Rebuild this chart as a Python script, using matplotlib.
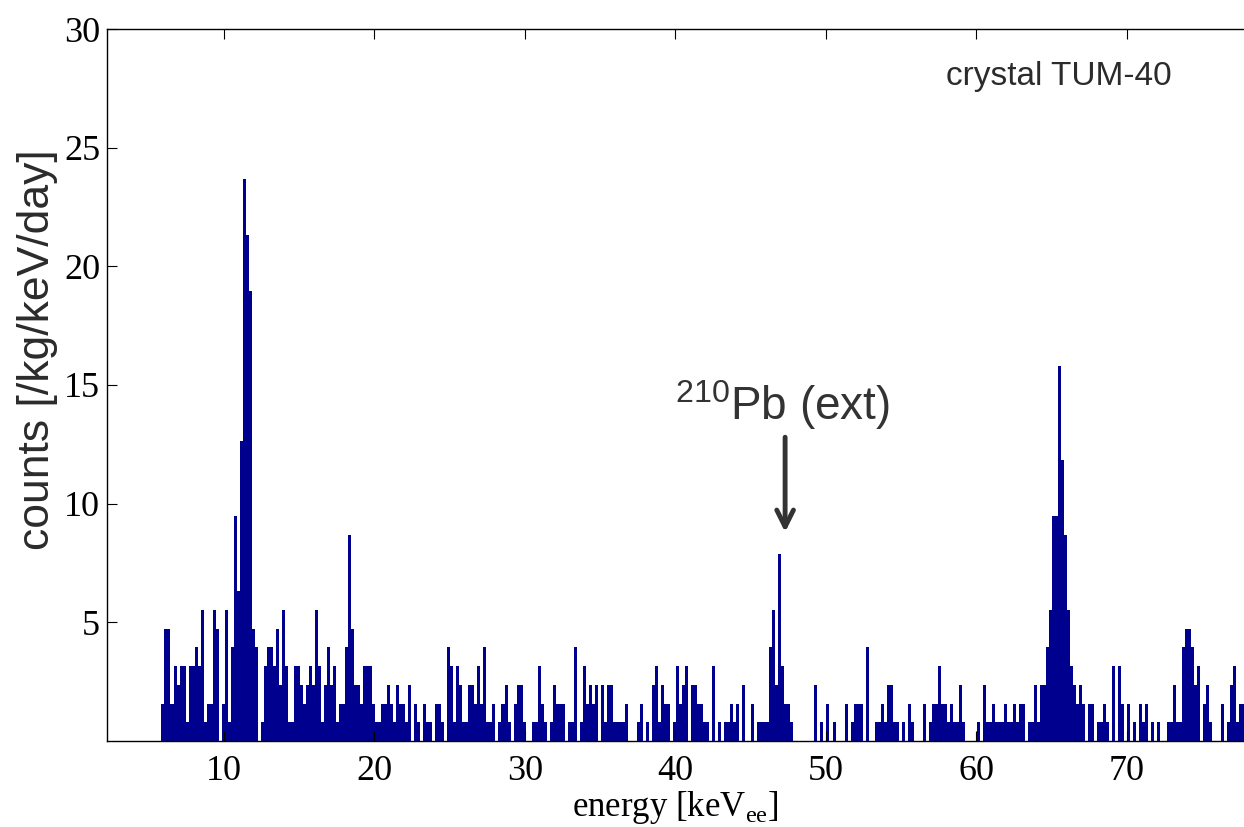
import numpy as np
import matplotlib
matplotlib.use("Agg")
import matplotlib.pyplot as plt
from matplotlib import font_manager

# 0.2 keV bins, first bin starts at 2.85 keV; values are event counts per bin
bin_start = 2.85
bin_width = 0.2
count_unit = 0.79   # counts/kg/keV/day for one event

counts = [
    0,
    0, 0, 0, 0, 0,        # 3
    0, 0, 0, 0, 0,        # 4
    0, 0, 0, 0, 2,        # 5
    6, 6, 2, 4, 3,        # 6
    4, 4, 1, 4, 4,        # 7
    5, 4, 7, 1, 2,        # 8
    2, 7, 6, 0, 2,        # 9
    7, 1, 5, 12, 8,       # 10
    16, 30, 27, 24, 6,    # 11
    5, 0, 1, 4, 5,        # 12
    5, 4, 6, 3, 7,        # 13
    4, 1, 1, 4, 4,        # 14
    3, 2, 3, 4, 3,        # 15
    7, 4, 1, 3, 5,        # 16
    3, 4, 1, 2, 2,        # 17
    5, 11, 6, 3, 3,       # 18
    2, 4, 4, 4, 2,        # 19
    1, 1, 2, 2, 3,        # 20
    2, 1, 3, 2, 2,        # 21
    1, 3, 0, 2, 1,        # 22
    0, 2, 1, 1, 0,        # 23
    2, 2, 1, 0, 5,        # 24
    4, 1, 4, 3, 1,        # 25
    1, 3, 3, 2, 4,        # 26
    2, 5, 1, 1, 2,        # 27
    0, 1, 2, 3, 1,        # 28
    0, 2, 3, 3, 1,        # 29
    0, 0, 1, 1, 4,        # 30
    2, 1, 0, 1, 3,        # 31
    2, 2, 2, 0, 1,        # 32
    1, 5, 0, 1, 4,        # 33
    2, 3, 2, 3, 0,        # 34
    3, 1, 3, 3, 1,        # 35
    1, 1, 1, 2, 0,        # 36
    0, 0, 1, 2, 0,        # 37
    1, 0, 3, 4, 1,        # 38
    3, 2, 2, 0, 1,        # 39
    4, 2, 3, 4, 0,        # 40
    3, 3, 2, 2, 1,        # 41
    1, 0, 4, 0, 1,        # 42
    0, 1, 1, 2, 1,        # 43
    2, 0, 3, 0, 0,        # 44
    2, 0, 1, 1, 1,        # 45
    1, 5, 7, 3, 10,       # 46
    4, 2, 2, 1, 0,        # 47
    0, 0, 0, 0, 0,        # 48
    0, 3, 0, 1, 0,        # 49
    2, 0, 1, 0, 0,        # 50
    0, 2, 0, 1, 2,        # 51
    2, 2, 0, 5, 0,        # 52
    0, 1, 1, 2, 1,        # 53
    3, 3, 1, 1, 0,        # 54
    1, 0, 2, 1, 0,        # 55
    0, 0, 2, 0, 1,        # 56
    2, 2, 4, 2, 2,        # 57
    1, 2, 1, 1, 3,        # 58
    1, 0, 0, 0, 0,        # 59
    1, 0, 3, 1, 1,        # 60
    2, 1, 1, 1, 2,        # 61
    1, 1, 2, 1, 2,        # 62
    2, 0, 1, 1, 3,        # 63
    1, 3, 3, 5, 7,        # 64
    12, 12, 20, 15, 11,   # 65
    7, 4, 3, 2, 3,        # 66
    2, 0, 2, 2, 0,        # 67
    1, 1, 2, 1, 0,        # 68
    4, 0, 4, 2, 0,        # 69
    2, 0, 1, 0, 2,        # 70
    1, 2, 0, 1, 0,        # 71
    1, 0, 0, 1, 1,        # 72
    3, 1, 1, 5, 6,        # 73
    6, 5, 3, 4, 0,        # 74
    2, 3, 1, 0, 0,        # 75
    0, 2, 0, 1, 3,        # 76
    4, 1, 2, 2,           # 77
]

xticks = [10, 20, 30, 40, 50, 60, 70]
yticks = [5, 10, 15, 20, 25, 30]

bar_color = "#00008F"
text_color = "#2b2b2b"

names = {f.name for f in font_manager.fontManager.ttflist}
narrow = "Liberation Sans Narrow" if "Liberation Sans Narrow" in names else "Liberation Sans"

plt.rcParams["mathtext.fontset"] = "custom"
plt.rcParams["mathtext.rm"] = "Liberation Serif"
plt.rcParams["mathtext.sf"] = "Liberation Sans"

fig = plt.figure(figsize=(12.44, 8.27), dpi=100)
ax = fig.add_axes([107 / 1244, 1 - 741 / 827, 1 - 107 / 1244, (741 - 29) / 827])

rates = np.array(counts) * count_unit
edges = bin_start + bin_width * np.arange(len(counts) + 1)
ax.stairs(rates, edges, fill=True, color=bar_color, linewidth=0)

ax.set_xlim(2.23, 77.8)
ax.set_ylim(0, 30)
ax.set_xticks(xticks)
ax.set_yticks(yticks)
ax.spines["right"].set_visible(False)
for s in ["left", "top", "bottom"]:
    ax.spines[s].set_linewidth(1.0)

ax.tick_params(direction="in", top=True, right=False, length=7, width=0.8)
ax.tick_params(axis="x", pad=10)
ax.tick_params(axis="y", pad=5)
for lab in ax.get_xticklabels() + ax.get_yticklabels():
    lab.set_fontfamily("Liberation Serif")
    lab.set_fontsize(26)

ax.set_xlabel(r"energy [keV$_{\mathrm{ee}}$]", fontfamily="Liberation Serif",
              fontsize=25, labelpad=1)
ax.set_ylabel("counts [/kg/keV/day]", fontfamily=[narrow, "DejaVu Sans"],
              fontsize=32, color=text_color)
ax.yaxis.set_label_coords(-0.043, 0.55)

ax.text(65.5, 28.0, "crystal TUM-40", fontfamily="Liberation Sans", fontsize=24,
        color=text_color, ha="center", va="center")

ax.annotate("", xy=(47.3, 8.8), xytext=(47.3, 12.8),
            arrowprops=dict(arrowstyle="->", color="#333333", lw=3.5,
                            mutation_scale=30, shrinkA=0, shrinkB=0))
ax.text(47.1, 14.15, r"$^{\mathsf{210}}$Pb (ext)", fontfamily="Liberation Sans",
        fontsize=33, color="#333333", ha="center", va="center")

fig.savefig("out.png", dpi=100)
